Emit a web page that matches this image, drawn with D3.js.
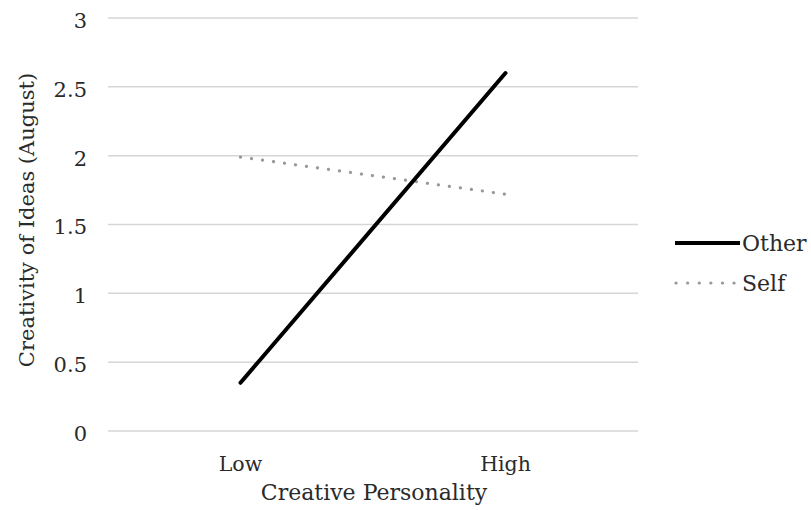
<!DOCTYPE html>
<html><head><meta charset="utf-8">
<script src="https://cdn.jsdelivr.net/npm/d3@7/dist/d3.min.js"></script>
<style>body{margin:0;background:#fff;} svg{display:block;}</style>
</head><body>
<svg id="c" width="811" height="510"></svg>
<script>
const categories = ["Low", "High"];
const seriesNames = ["Other", "Self"];
const otherValues = [0.35, 2.60];
const selfValues = [1.99, 1.72];
const yTicks = [0, 0.5, 1, 1.5, 2, 2.5, 3];
const yTickLabels = ["0", "0.5", "1", "1.5", "2", "2.5", "3"];
const xTitle = "Creative Personality";
const yTitle = "Creativity of Ideas (August)";

(function () {
const svg = d3.select("#c");
const font = "'DejaVu Serif', Georgia, serif";
const ink = "#2a2a2a";
const pLeft = 108, pRight = 638, pTop = 18, pBottom = 431;

const x = d3.scaleBand().domain(categories).range([pLeft, pRight]);
const y = d3.scaleLinear().domain([0, 3]).range([pBottom, pTop]);

svg.append("g").selectAll("line").data(yTicks).join("line")
  .attr("x1", pLeft).attr("x2", pRight)
  .attr("y1", d => y(d)).attr("y2", d => y(d))
  .attr("stroke", "#d6d6d6").attr("stroke-width", 1.5);

const yAxis = d3.axisLeft(y).tickValues(yTicks).tickSize(0).tickPadding(0)
  .tickFormat((d, i) => yTickLabels[i]);
const yg = svg.append("g").attr("transform", `translate(${pLeft - 21},0)`).call(yAxis);
yg.select(".domain").remove();
yg.selectAll("text").attr("font-family", font).attr("font-size", 21).attr("fill", ink)
  .attr("dy", "0.45em");

const xAxis = d3.axisBottom(x).tickSize(0).tickPadding(0);
const xg = svg.append("g").attr("transform", `translate(0,${pBottom + 40})`).call(xAxis);
xg.select(".domain").remove();
xg.selectAll("text").attr("font-family", font).attr("font-size", 20.5).attr("fill", ink)
  .attr("dy", "0");

svg.append("text").attr("x", (pLeft + pRight) / 2 + 1).attr("y", 500)
  .attr("text-anchor", "middle").attr("font-family", font).attr("font-size", 22)
  .attr("fill", ink).text(xTitle);
svg.append("text").attr("transform", "translate(34,220) rotate(-90)")
  .attr("text-anchor", "middle").attr("font-family", font).attr("font-size", 21)
  .attr("fill", ink).text(yTitle);

const line = d3.line().x((d, i) => x(categories[i]) + x.bandwidth() / 2).y(d => y(d));

svg.append("path").datum(selfValues).attr("d", line)
  .attr("fill", "none").attr("stroke", "#999").attr("stroke-width", 3.2)
  .attr("stroke-dasharray", "0.1,11").attr("stroke-linecap", "round");

svg.append("path").datum(otherValues).attr("d", line)
  .attr("fill", "none").attr("stroke", "#000").attr("stroke-width", 4)
  .attr("stroke-linecap", "round");

const lg = svg.append("g");
lg.append("line").attr("x1", 675).attr("x2", 740).attr("y1", 243).attr("y2", 243)
  .attr("stroke", "#000").attr("stroke-width", 4);
lg.append("line").attr("x1", 676).attr("x2", 738).attr("y1", 283).attr("y2", 283)
  .attr("stroke", "#999").attr("stroke-width", 3.2)
  .attr("stroke-dasharray", "0.1,11.5").attr("stroke-linecap", "round");
lg.selectAll("text").data(seriesNames).join("text")
  .attr("x", 742).attr("y", (d, i) => 243 + i * 40)
  .attr("dy", "0.38em").attr("font-family", font).attr("font-size", 22)
  .attr("fill", ink).text(d => d);
})();
</script>
</body></html>
